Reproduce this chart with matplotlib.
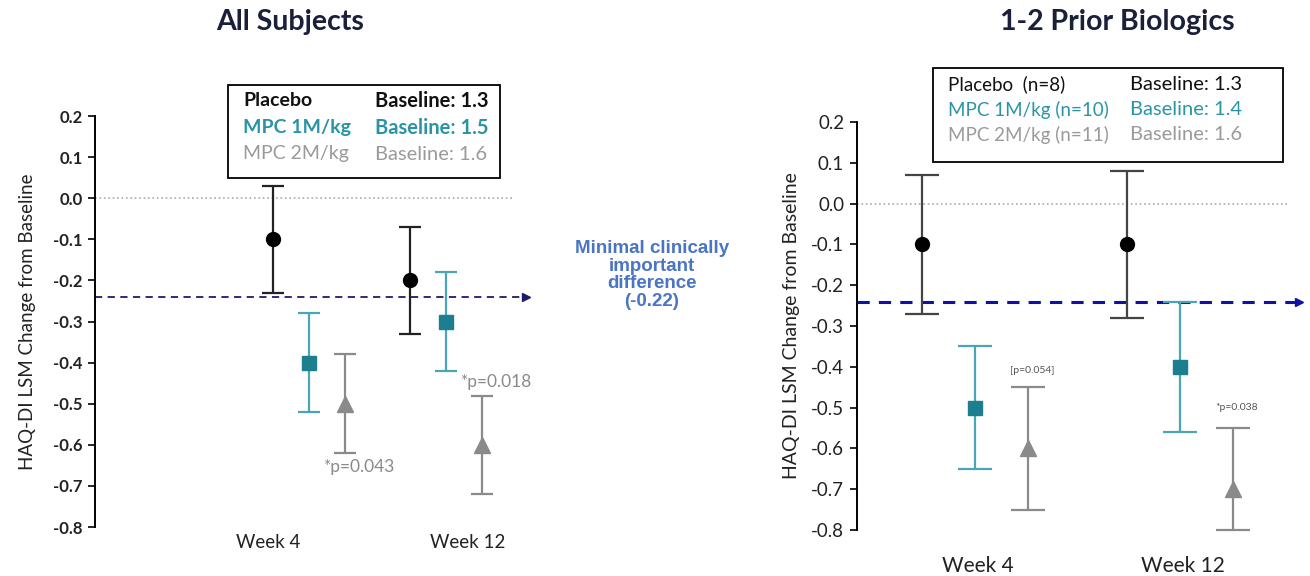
import numpy as np
import matplotlib.pyplot as plt
from matplotlib.patches import Rectangle

plt.rcParams['font.family'] = ['Lato', 'DejaVu Sans']

weeks = ['Week 4', 'Week 12']
groups = ['Placebo', 'MPC 1M/kg', 'MPC 2M/kg']

# All subjects: mean, lower, upper (week 4, week 12)
all_mean = [[-0.10, -0.20], [-0.40, -0.30], [-0.50, -0.60]]
all_low = [[-0.23, -0.33], [-0.52, -0.42], [-0.62, -0.72]]
all_high = [[0.03, -0.07], [-0.28, -0.18], [-0.38, -0.48]]
all_base = ['1.3', '1.5', '1.6']

# 1-2 prior biologics
bio_mean = [[-0.10, -0.10], [-0.50, -0.40], [-0.60, -0.70]]
bio_low = [[-0.27, -0.28], [-0.65, -0.56], [-0.75, -0.80]]
bio_high = [[0.07, 0.08], [-0.35, -0.24], [-0.45, -0.55]]
bio_n = [8, 10, 11]
bio_base = ['1.3', '1.4', '1.6']

mcid = -0.24
yticks = np.round(np.arange(-0.8, 0.21, 0.1), 1)
ytick_labels = ['%.1f' % v if abs(v) > 1e-9 else '0.0' for v in yticks]

mk_col = ['black', '#1b7f8f', '#8a8a8a']
bar_col_left = ['#222222', '#4aa5b6', '#8a8a8a']
bar_col_right = ['#444444', '#4aa5b6', '#8a8a8a']
txt_col = ['#111111', '#2a94a6', '#9a9a9a']
markers = ['o', 's', '^']
msize = [10, 9.5, 11]

fig = plt.figure(figsize=(13.1, 5.76), dpi=100)
ax1 = fig.add_axes([0.0725, 0.085, 0.332, 0.7135])
ax2 = fig.add_axes([0.654, 0.080, 0.342, 0.708])


def panel(ax, mean, low, high, off, xlim, capsize, bar_col, tick_fs, tick_w, lab_fs, line_col, line_w,
          arrow_x, xpad, ylpad):
    xs = np.arange(1, len(weeks) + 1)
    for g in range(len(groups)):
        m = np.array(mean[g])
        err = [m - np.array(low[g]), np.array(high[g]) - m]
        ax.errorbar(xs + (g - 1) * off, m, yerr=err, fmt='none', ecolor=bar_col[g],
                    elinewidth=1.6, capsize=capsize, capthick=1.6, zorder=3, clip_on=False)
        ax.plot(xs + (g - 1) * off, m, linestyle='none', marker=markers[g], color=mk_col[g],
                markersize=msize[g], zorder=4, clip_on=False)
    ax.set_xlim(xlim)
    ax.set_ylim(-0.8, 0.2)
    ax.set_yticks(yticks)
    ax.set_yticklabels(ytick_labels, fontsize=tick_fs, fontweight=tick_w, color='#222222')
    ax.set_ylabel('HAQ-DI LSM Change from Baseline', fontsize=lab_fs, color='#222222', labelpad=ylpad)
    for s in ['top', 'right', 'bottom']:
        ax.spines[s].set_visible(False)
    ax.spines['left'].set_linewidth(1.4)
    ax.tick_params(axis='y', length=5, width=1.2, pad=4)
    ax.tick_params(axis='x', length=0, pad=xpad, labelsize=tick_fs + 1.5, labelcolor='#222222')
    ax.axhline(0.0, color='#aaaaaa', linestyle=':', linewidth=1.2, xmax=0.96, zorder=1)
    ax.plot([xlim[0], arrow_x], [mcid, mcid], linestyle='--', color=line_col, linewidth=line_w,
            dashes=(4, 3), clip_on=False, zorder=2)
    ax.plot([arrow_x], [mcid], marker='>', color=line_col, markersize=6, clip_on=False, zorder=2)


panel(ax1, all_mean, all_low, all_high, 0.263, (-0.562, 2.613), 8, bar_col_left,
      12, 'bold', 13.5, '#1c1c6a', 1.3, 2.585, 5, 12)
ax1.set_xticks([1 - 0.30, 2 + 0.16])
ax1.set_xticklabels(weeks)
ax1.text(1 + 0.263 + 0.11, -0.655, '*p=0.043', fontsize=12.5, color='#8a8a8a', ha='center', va='center')
ax1.text(2 + 0.263 + 0.11, -0.447, '*p=0.018', fontsize=12.5, color='#8a8a8a', ha='center', va='center')

panel(ax2, bio_mean, bio_low, bio_high, 0.259, (0.424, 2.61), 12, bar_col_right,
      13.5, 'normal', 14, '#1010a8', 2.2, 2.58, 19, 8)
ax2.set_xticks([1.015, 2.015])
ax2.set_xticklabels(weeks)
ax2.text(1 + 0.259 + 0.02, -0.408, '[p=0.054]', fontsize=7.5, color='#555555', ha='center', va='center')
ax2.text(2 + 0.259 + 0.02, -0.50, '*p=0.038', fontsize=7.5, color='#555555', ha='center', va='center')

fig.text(290 / 1310, 1 - 22 / 576, 'All Subjects', fontsize=20.5, fontweight='bold', color='#1a1f3a',
         ha='center', va='center')
fig.text(1117 / 1310, 1 - 22 / 576, '1-2 Prior Biologics', fontsize=20.5, fontweight='bold', color='#1a1f3a',
         ha='center', va='center')

# legend boxes
fig.patches.append(Rectangle((228 / 1310, 1 - 178 / 576), 272 / 1310, 93 / 576, transform=fig.transFigure,
                             fill=False, edgecolor='black', linewidth=1.3))
for i in range(len(groups)):
    y = 1 - (101 + i * 26.5) / 576
    w = 'bold' if i < 2 else 'normal'
    fig.text(243 / 1310, y, groups[i], fontsize=14, color=txt_col[i], va='center', fontweight=w)
    fig.text(375 / 1310, y, 'Baseline: ' + all_base[i], fontsize=14.5, color=txt_col[i], va='center',
             fontweight=w)

fig.patches.append(Rectangle((933 / 1310, 1 - 162 / 576), 350 / 1310, 94 / 576, transform=fig.transFigure,
                             fill=False, edgecolor='black', linewidth=1.3))
for i in range(len(groups)):
    y = 1 - (84 + i * 25.5) / 576
    lab = groups[i] + ('  (n=%d)' % bio_n[i] if i == 0 else ' (n=%d)' % bio_n[i])
    fig.text(948 / 1310, y, lab, fontsize=13.5, color=txt_col[i], va='center')
    fig.text(1130 / 1310, y, 'Baseline: ' + bio_base[i], fontsize=14.5, color=txt_col[i], va='center')

fig.text(652 / 1310, 1 - 275 / 576, 'Minimal clinically\nimportant\ndifference\n(-0.22)', fontsize=13.5,
         fontweight='bold', color='#4a74c4', ha='center', va='center', linespacing=1.05,
         family='Liberation Sans')

fig.savefig('out.png', dpi=100)
